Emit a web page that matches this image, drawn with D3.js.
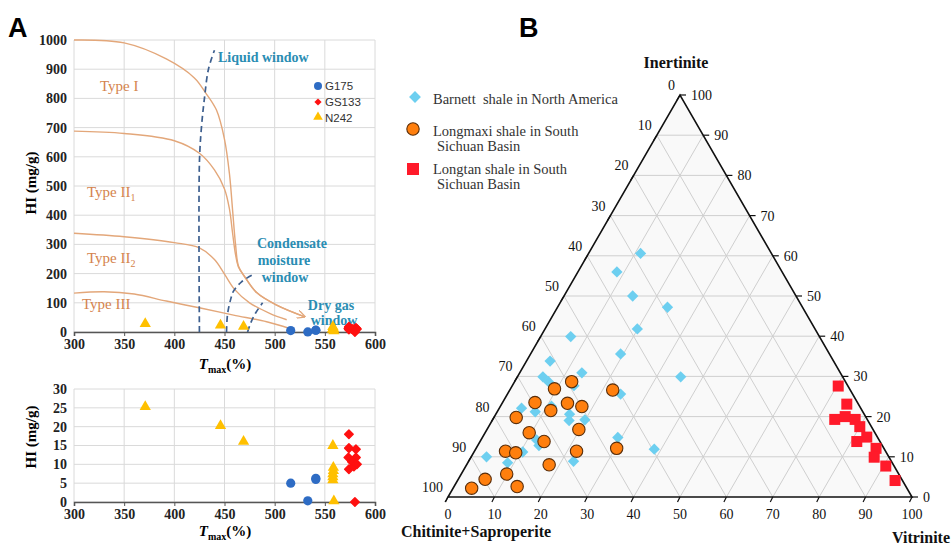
<!DOCTYPE html>
<html><head><meta charset="utf-8">
<script src="https://cdn.jsdelivr.net/npm/d3@7"></script>
<style>body{margin:0;background:#fff}svg{display:block}</style>
</head><body>
<svg id="c" width="952" height="545"></svg>
<script>
// ---------- DATA: panel A ----------
const tmaxTicks = [300, 350, 400, 450, 500, 550, 600];
const hiTicksTop = [0, 100, 200, 300, 400, 500, 600, 700, 800, 900, 1000];
const hiTicksBottom = [0, 5, 10, 15, 20, 25, 30];
const g175 = [[516, 5.0], [533, 0.3], [541, 6.3], [541, 6.0]];
const gs133 = [[574, 18], [574, 14.3], [581, 14], [573.5, 11.8], [581, 11.8], [577, 10.7], [574, 8.7], [579, 9.4], [582, 10], [580, 0]];
const n242 = [[371, 25], [446, 20], [469, 15.8], [558, 14.7], [558.5, 8.9], [558.5, 8.0], [558, 7.2], [558, 6.4], [558, 5.6], [559, 0]];
const typeI = [[300, 1000], [350, 990], [392, 935], [420, 870], [431, 820], [442, 760], [450, 660], [455, 540], [458, 420], [461, 300], [464, 225], [470, 190], [482, 135], [502, 92], [530, 52]];
const typeII1 = [[300, 688], [350, 680], [400, 655], [425, 612], [440, 555], [450, 490], [455, 420], [458, 340], [461, 265], [464, 222], [470, 190], [482, 135], [502, 92], [530, 52]];
const typeII2 = [[300, 338], [350, 326], [400, 306], [425, 288], [440, 248], [450, 198], [460, 146], [475, 100], [495, 64], [512, 42]];
const typeIII = [[300, 133], [330, 138], [360, 130], [392, 106], [426, 82], [459, 58], [492, 35], [515, 12]];
const liquidWindow = [[425, 0], [425, 580], [427, 700], [430, 800], [434, 900], [440, 965]];
const condensateWindow = [[452, 0], [453, 60], [456, 110], [459, 140], [467, 172], [478, 196]];
const dryGasWindow = [[473, 0], [476, 30], [481, 65], [488, 100]];

// ---------- DATA: panel B (inertinite, vitrinite in %) ----------
const ternaryTicks = [0, 10, 20, 30, 40, 50, 60, 70, 80, 90, 100];
const barnett = [[60.6, 11.2], [56, 8.4], [50, 14.8], [47.2, 23.7], [41.8, 19.9], [39.9, 6.5], [35.6, 19.4], [33.8, 5.1], [30.9, 13.4], [29.9, 5.5], [28.7, 7.3], [29.9, 35.2], [27.7, 13.3], [25.6, 24.4], [22.1, 4.8], [21.2, 8.2], [22.6, 11.0], [20.6, 15.9], [19.2, 19.9], [19.0, 16.6], [14.8, 29.2], [14.2, 12.0], [12.8, 13.2], [11.9, 38.5], [11.2, 10.5], [10.0, 3.3], [8.5, 8.6], [8.9, 22.6]];
const longmaxi = [[28.7, 12.3], [26.9, 9.5], [26.6, 22.2], [23.5, 7.0], [23.3, 14.1], [22.5, 17.6], [21.5, 11.4], [19.8, 4.8], [16.8, 19.8], [16.0, 9.5], [13.8, 13.8], [12.1, 30.3], [11.4, 22.0], [11.4, 6.7], [11.0, 9.1], [8.0, 17.8], [5.7, 9.8], [4.4, 5.8], [2.6, 13.6], [2.2, 4.0]];
const longtan = [[27.6, 70.3], [23.1, 74.4], [19.3, 73.7], [20.0, 75.6], [19.3, 78.1], [17.5, 80.0], [14.9, 82.8], [13.8, 81.2], [12.1, 86.2], [9.9, 86.9], [7.7, 90.5], [4.1, 94.3]];

const svg = d3.select("#c");
const serif = "'Liberation Serif','Times New Roman',serif";
const sans = "'Liberation Sans',Arial,sans-serif";
const diamond = s => d3.symbol(d3.symbolSquare, s);

// panel letters
svg.append("text").attr("x", 8).attr("y", 37).text("A").style("font-family", sans).attr("font-weight", "bold").attr("font-size", 27);
svg.append("text").attr("x", 519).attr("y", 37).text("B").style("font-family", sans).attr("font-weight", "bold").attr("font-size", 27);

// ---------- panel A helper ----------
function tmaxTitle(g, cx, y) {
  const t = g.append("text").attr("x", cx).attr("y", y).attr("text-anchor", "middle")
    .style("font-family", serif).attr("font-weight", "bold").attr("font-size", 15);
  t.append("tspan").attr("font-style", "italic").text("T");
  t.append("tspan").attr("font-size", 10).attr("dy", 4).text("max");
  t.append("tspan").attr("dy", -4).text("(%)");
}
function hiTitle(g, cx, cy) {
  g.append("text").attr("transform", `translate(${cx},${cy}) rotate(-90)`).attr("text-anchor", "middle")
    .attr("dominant-baseline", "middle")
    .style("font-family", serif).attr("font-weight", "bold").attr("font-size", 15).text("HI (mg/g)");
}
function panel(top, bottom, yDomain, yTicks) {
  const x = d3.scaleLinear().domain([300, 600]).range([74, 375]);
  const y = d3.scaleLinear().domain(yDomain).range([bottom, top]);
  const g = svg.append("g");
  g.append("g").selectAll("line").data(tmaxTicks).join("line")
    .attr("x1", d => x(d)).attr("x2", d => x(d)).attr("y1", top).attr("y2", bottom)
    .attr("stroke", "#dadada").attr("stroke-width", 1);
  g.append("g").selectAll("line").data(yTicks).join("line")
    .attr("x1", x(300)).attr("x2", x(600)).attr("y1", d => y(d)).attr("y2", d => y(d))
    .attr("stroke", "#dadada").attr("stroke-width", 1);
  const ax = g.append("g").attr("transform", `translate(0,${bottom})`)
    .call(d3.axisBottom(x).tickValues(tmaxTicks).tickFormat(d3.format("d")).tickSize(4).tickPadding(3));
  ax.attr("font-family", null);
  ax.select(".domain").attr("stroke", "#555").attr("stroke-width", 1.6);
  ax.selectAll(".tick line").attr("stroke", "#555");
  ax.selectAll("text").style("font-family", serif).style("font-weight", "bold").style("font-size", "14px").attr("fill", "#222");
  const ay = g.append("g").attr("transform", `translate(${x(300)},0)`)
    .call(d3.axisLeft(y).tickValues(yTicks).tickFormat(d3.format("d")).tickSize(0).tickPadding(7));
  ay.attr("font-family", null);
  ay.select(".domain").remove();
  ay.selectAll("text").style("font-family", serif).style("font-weight", "bold").style("font-size", "14px").attr("fill", "#222");
  return {g, x, y};
}
function drawPoints(p) {
  const {g, x, y} = p;
  g.append("g").selectAll("path").data(n242).join("path")
    .attr("d", d3.symbol(d3.symbolTriangle, 55)).attr("transform", d => `translate(${x(d[0])},${y(d[1]) - 1})`)
    .attr("fill", "#ffc000");
  g.append("g").selectAll("circle").data(g175).join("circle")
    .attr("cx", d => x(d[0])).attr("cy", d => y(d[1])).attr("r", 4.6).attr("fill", "#2e6cc4");
  g.append("g").selectAll("path").data(gs133).join("path")
    .attr("d", diamond(36)).attr("transform", d => `translate(${x(d[0])},${y(d[1])}) rotate(45)`)
    .attr("fill", "#ff1010").attr("stroke", "#ff1010").attr("stroke-linejoin", "round").attr("stroke-width", 1.5);
}

// ---------- top panel ----------
const pTop = panel(40, 332, [0, 1000], hiTicksTop);
{
  const {g, x, y} = pTop;
  const line = d3.line().x(d => x(d[0])).y(d => y(d[1])).curve(d3.curveCatmullRom.alpha(0.5));
  svg.append("defs").append("marker").attr("id", "arr").attr("viewBox", "0 0 10 10").attr("refX", 9).attr("refY", 5)
    .attr("markerWidth", 6).attr("markerHeight", 6).attr("orient", "auto")
    .append("path").attr("d", "M0,0 L10,5 L0,10").attr("fill", "none").attr("stroke", "#e3a77a").attr("stroke-width", 1.5);
  [typeI, typeII1, typeII2, typeIII].forEach((c, i) => {
    g.append("path").attr("d", line(c)).attr("fill", "none").attr("stroke", "#e3a77a").attr("stroke-width", 1.4)
      .attr("marker-end", i === 1 ? "url(#arr)" : null);
  });
  [liquidWindow, condensateWindow, dryGasWindow].forEach(c => {
    g.append("path").attr("d", line(c)).attr("fill", "none").attr("stroke", "#3d5f8f").attr("stroke-width", 1.7)
      .attr("stroke-dasharray", "6,4");
  });
  const typeLab = (tx, ty, main, sub) => {
    const t = g.append("text").attr("x", tx).attr("y", ty).style("font-family", serif).attr("font-size", 15).attr("fill", "#d4834c").text(main);
    if (sub) t.append("tspan").attr("font-size", 10).attr("dy", 4).text(sub);
  };
  typeLab(100, 91, "Type I");
  typeLab(87, 197, "Type II", "1");
  typeLab(87, 263, "Type II", "2");
  typeLab(82, 309, "Type III");
  const blue = "#2b8db3";
  const wl = (tx, ty, s, anchor) => g.append("text").attr("x", tx).attr("y", ty).attr("text-anchor", anchor || "start")
    .style("font-family", serif).attr("font-size", 14).attr("font-weight", "bold").attr("fill", blue).text(s);
  wl(218, 62, "Liquid window");
  wl(292, 248, "Condensate", "middle");
  wl(284, 265, "moisture", "middle");
  wl(285, 282, "window", "middle");
  wl(331, 310, "Dry gas", "middle");
  wl(334, 325, "window", "middle");
  drawPoints(pTop);
  // legend
  const lg = g.append("g").style("font-family", sans).attr("font-size", 11.5).attr("fill", "#333");
  lg.append("circle").attr("cx", 318).attr("cy", 86).attr("r", 4).attr("fill", "#2e6cc4");
  lg.append("path").attr("d", diamond(26)).attr("transform", "translate(318,102) rotate(45)").attr("fill", "#ff1010");
  lg.append("path").attr("d", d3.symbol(d3.symbolTriangle, 40)).attr("transform", "translate(318,117)").attr("fill", "#ffc000");
  lg.append("text").attr("x", 325).attr("y", 90).text("G175");
  lg.append("text").attr("x", 325).attr("y", 106).text("GS133");
  lg.append("text").attr("x", 325).attr("y", 122).text("N242");
  hiTitle(svg, 33, 183);
  tmaxTitle(svg, 225, 369);
}

// ---------- bottom panel ----------
const pBot = panel(389, 502, [0, 30], hiTicksBottom);
drawPoints(pBot);
hiTitle(svg, 33, 437);
tmaxTitle(svg, 225, 536);

// ---------- panel B: ternary ----------
const tx = d3.scaleLinear().domain([0, 100]).range([448, 912]);
const ty = d3.scaleLinear().domain([0, 100]).range([497, 95]);
const pos = (I, V) => [tx(V + I / 2), ty(I)];
const tg = svg.append("g");
const tri = [pos(0, 0), pos(0, 100), pos(100, 0)];
tg.append("path").attr("d", "M" + tri.join("L") + "Z").attr("fill", "#f9f9f9");
const inner = ternaryTicks.slice(1, -1);
const gridSegs = [];
inner.forEach(k => {
  gridSegs.push([pos(k, 0), pos(k, 100 - k)]);      // constant inertinite
  gridSegs.push([pos(0, k), pos(100 - k, k)]);      // constant vitrinite
  gridSegs.push([pos(0, 100 - k), pos(100 - k, 0)]); // constant chitinite
});
tg.append("g").selectAll("line").data(gridSegs).join("line")
  .attr("x1", d => d[0][0]).attr("y1", d => d[0][1]).attr("x2", d => d[1][0]).attr("y2", d => d[1][1])
  .attr("stroke", "#cfcfcf").attr("stroke-width", 1);
tg.append("path").attr("d", "M" + tri.join("L") + "Z").attr("fill", "none").attr("stroke", "#111").attr("stroke-width", 1.6);
// ticks
const tk = tg.append("g").attr("stroke", "#111").attr("stroke-width", 1.2);
ternaryTicks.forEach(k => {
  const b = pos(0, k);
  tk.append("line").attr("x1", b[0]).attr("y1", b[1]).attr("x2", b[0] - 2.5).attr("y2", b[1] + 5);
  const l = pos(100 - k, 0);
  tk.append("line").attr("x1", l[0]).attr("y1", l[1]).attr("x2", l[0] - 3).attr("y2", l[1] + 5);
  const r = pos(k, 100 - k);
  tk.append("line").attr("x1", r[0]).attr("y1", r[1]).attr("x2", r[0] + 6).attr("y2", r[1]);
});
const lab = tg.append("g").style("font-family", serif).attr("font-size", 14).attr("fill", "#111");
lab.selectAll("text.b").data(ternaryTicks).join("text").attr("class", "b")
  .attr("x", k => pos(0, k)[0]).attr("y", 519).attr("text-anchor", "middle").text(k => k);
lab.selectAll("text.l").data(ternaryTicks).join("text").attr("class", "l")
  .attr("x", k => pos(100 - k, 0)[0] - 5).attr("y", k => pos(100 - k, 0)[1] - 5).attr("text-anchor", "end").text(k => k);
lab.selectAll("text.r").data(ternaryTicks).join("text").attr("class", "r")
  .attr("x", k => pos(k, 100 - k)[0] + 11).attr("y", k => pos(k, 100 - k)[1] + 5).text(k => k);
const ttl = tg.append("g").style("font-family", serif).attr("font-weight", "bold").attr("font-size", 16).attr("fill", "#111");
ttl.append("text").attr("x", 676).attr("y", 68).attr("text-anchor", "middle").text("Inertinite");
ttl.append("text").attr("x", 476).attr("y", 537).attr("text-anchor", "middle").text("Chitinite+Saproperite");
ttl.append("text").attr("x", 921).attr("y", 543).attr("text-anchor", "middle").text("Vitrinite");
// points
tg.append("g").selectAll("path").data(barnett).join("path")
  .attr("d", diamond(64)).attr("transform", d => `translate(${pos(d[0], d[1])}) rotate(45)`)
  .attr("fill", "#6dcff0");
tg.append("g").selectAll("circle").data(longmaxi).join("circle")
  .attr("cx", d => pos(d[0], d[1])[0]).attr("cy", d => pos(d[0], d[1])[1]).attr("r", 6.2)
  .attr("fill", "#ff7f0e").attr("stroke", "#5a2e0a").attr("stroke-width", 1.1);
tg.append("g").selectAll("rect").data(longtan).join("rect")
  .attr("x", d => pos(d[0], d[1])[0] - 5.5).attr("y", d => pos(d[0], d[1])[1] - 5.5).attr("width", 11).attr("height", 11)
  .attr("fill", "#ff1a2a");
// legend B
const lb = svg.append("g").style("font-family", serif).attr("font-size", 14.5).attr("fill", "#333");
lb.append("path").attr("d", diamond(70)).attr("transform", "translate(415,97) rotate(45)").attr("fill", "#6dcff0");
lb.append("circle").attr("cx", 413).attr("cy", 129).attr("r", 6.2).attr("fill", "#ff7f0e").attr("stroke", "#5a2e0a").attr("stroke-width", 1.1);
lb.append("rect").attr("x", 407).attr("y", 163).attr("width", 12).attr("height", 12).attr("fill", "#ff1a2a");
lb.append("text").attr("x", 433).attr("y", 104).attr("xml:space", "preserve").text("Barnett  shale in North America");
lb.append("text").attr("x", 433).attr("y", 136).text("Longmaxi shale in South");
lb.append("text").attr("x", 437).attr("y", 151).text("Sichuan Basin");
lb.append("text").attr("x", 433).attr("y", 174).text("Longtan shale in South");
lb.append("text").attr("x", 437).attr("y", 189).text("Sichuan Basin");
</script>
</body></html>
